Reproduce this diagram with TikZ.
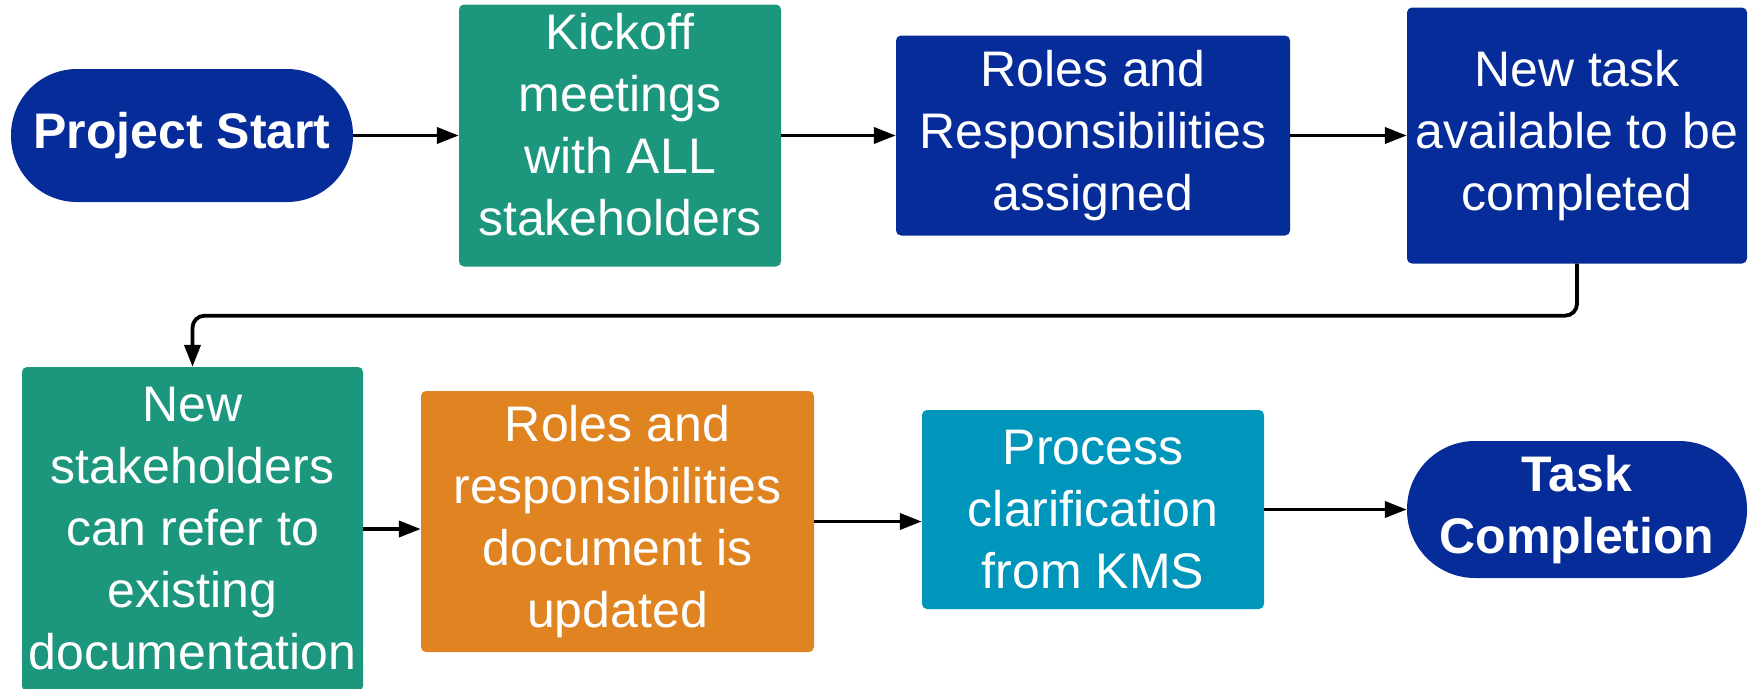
\documentclass[tikz,border=0pt]{standalone}
\usepackage{fontspec}
\setmainfont{Liberation Sans}
\usetikzlibrary{arrows.meta,calc}
\definecolor{navy}{HTML}{052C98}
\definecolor{tealg}{HTML}{1C967D}
\definecolor{orangeb}{HTML}{E08422}
\definecolor{cyanb}{HTML}{0096BB}
\begin{document}
\begin{tikzpicture}[x=1pt,y=-1pt,
  box/.style={rectangle, rounded corners=5pt, text=white, align=center, inner sep=0pt,
    font=\fontsize{50}{62}\selectfont},
  term/.style={rectangle, text=white, fill=navy, align=center, inner sep=0pt,
    font=\fontsize{50}{62}\selectfont\bfseries},
  conn/.style={line width=3.8pt, -{Triangle[length=22pt,width=16pt]}}]
\useasboundingbox (0,0) rectangle (1755,688);
\node[term, rounded corners=66pt, minimum width=342pt, minimum height=133pt] (start) at (182,135.5) {Project Start};
\node[box, fill=tealg, minimum width=322pt, minimum height=262pt, text depth=23pt] (kick) at (620,135.5) {Kickoff\\meetings\\with ALL\\stakeholders};
\node[box, fill=navy, minimum width=394pt, minimum height=200pt] (roles) at (1093,135.5) {Roles and\\Responsibilities\\assigned};
\node[box, fill=navy, minimum width=340pt, minimum height=256pt] (newtask) at (1577,135.5) {New task\\available to be\\completed};
\node[box, fill=tealg, minimum width=341pt, minimum height=324pt] (stake) at (192.5,529) {New\\stakeholders\\can refer to\\existing\\documentation};
\node[box, fill=orangeb, minimum width=393pt, minimum height=261pt] (doc) at (617.5,521.5) {Roles and\\responsibilities\\document is\\updated};
\node[box, fill=cyanb, minimum width=342pt, minimum height=199pt] (proc) at (1093,509.5) {Process\\clarification\\from KMS};
\node[term, rounded corners=68pt, minimum width=340pt, minimum height=137pt] (done) at (1577,509.5) {Task\\Completion};
\draw[conn] (start.east) -- (kick.west);
\draw[conn] (kick.east) -- (roles.west);
\draw[conn] (roles.east) -- (newtask.west);
\draw[conn, rounded corners=12pt] (newtask.south) -- ++(0,52) -| (stake.north);
\draw[conn] (stake.east) -- (stake.east -| doc.west);
\draw[conn] (doc.east) -- (doc.east -| proc.west);
\draw[conn] (proc.east) -- (done.west);
\end{tikzpicture}
\end{document}
